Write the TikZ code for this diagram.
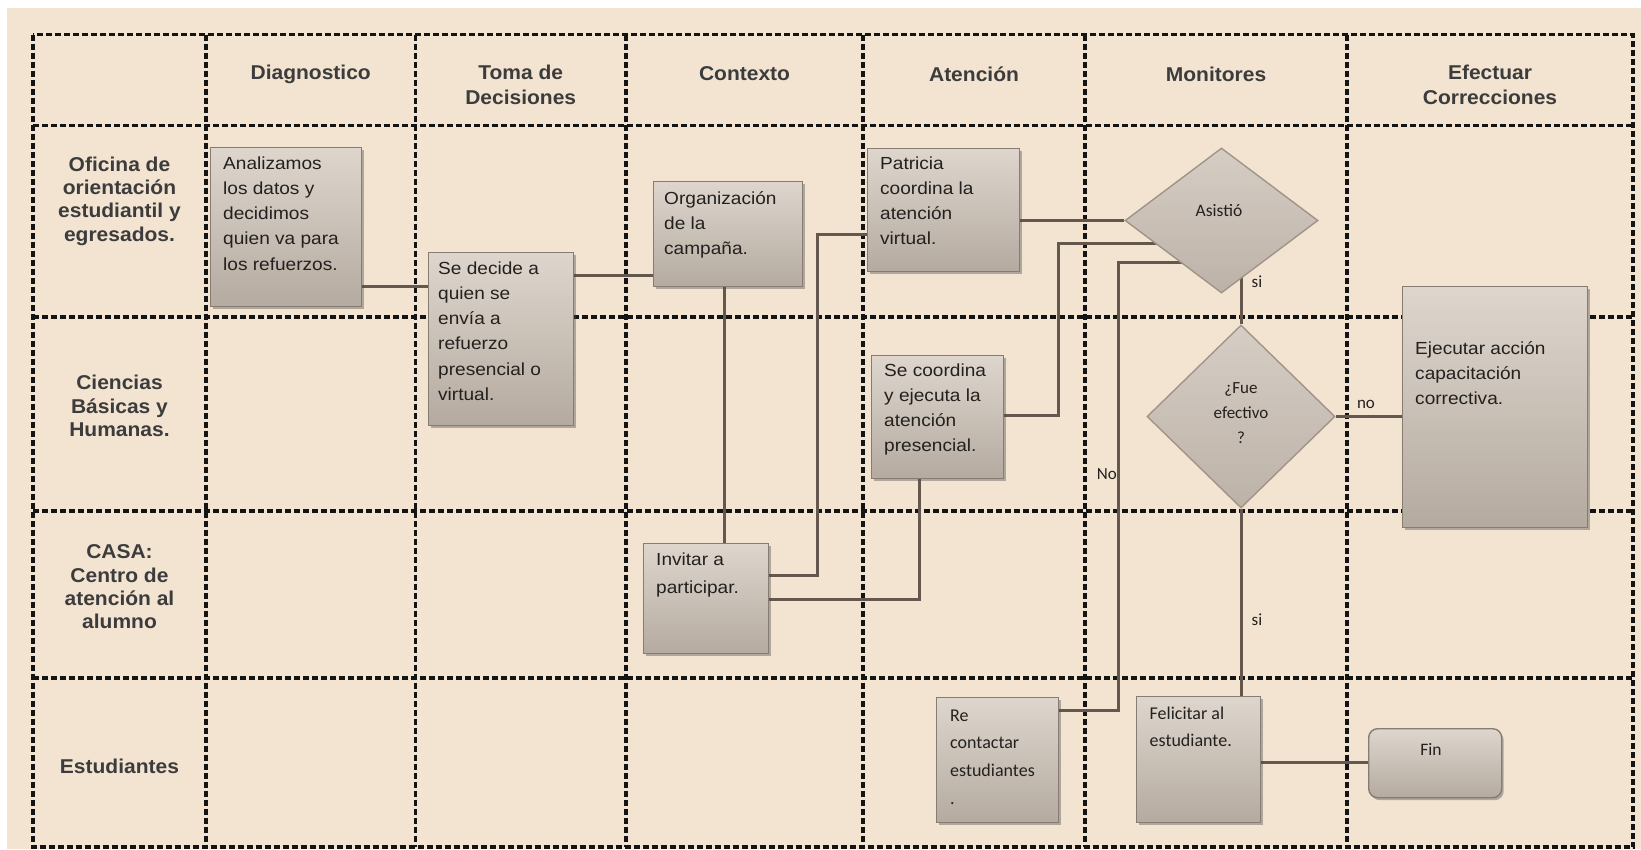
\documentclass[tikz,border=0pt]{standalone}
\usepackage{fontspec}
\setmainfont{Liberation Sans}
\newfontfamily\hfont[FakeStretch=1.05]{Liberation Sans}
\newfontfamily\bxfont[FakeStretch=1.09]{Liberation Sans}
\newfontfamily\cbfont{Carlito}
\usetikzlibrary{shapes.geometric,shadows}
\definecolor{beige}{RGB}{243,228,210}
\definecolor{boxtop}{RGB}{222,214,205}
\definecolor{boxbot}{RGB}{180,170,160}
\definecolor{boxedge}{RGB}{135,124,114}
\definecolor{diatop}{RGB}{214,205,196}
\definecolor{diabot}{RGB}{188,178,168}
\definecolor{diaedge}{RGB}{160,148,136}
\definecolor{conncol}{RGB}{100,88,78}
\definecolor{headc}{RGB}{60,60,60}
\definecolor{txtc}{RGB}{35,33,31}
\newcommand\tl[1]{\parbox[t]{200pt}{\raggedright #1}}
\pgfdeclarelayer{bg}
\pgfsetlayers{bg,main}
\begin{document}
\begin{tikzpicture}[x=1pt,y=-1pt,
  gridline/.style={line width=3.2pt, dash pattern=on 6pt off 3pt, draw=black!92},
  box/.style={draw=boxedge, line width=1.4pt, top color=boxtop, bottom color=boxbot, inner sep=0pt, anchor=north west,
    drop shadow={shadow xshift=2pt, shadow yshift=-2.5pt, opacity=0.4, fill=black!70}},
  dia/.style={diamond, draw=diaedge, line width=1.4pt, top color=diatop, bottom color=diabot, inner sep=0pt},
  conn/.style={draw=conncol, line width=3pt},
  hdr/.style={font=\hfont\bfseries\fontsize{20}{25}\selectfont, text=headc, align=center, inner sep=0pt},
  rlab/.style={font=\hfont\bfseries\fontsize{20}{23.3}\selectfont, text=headc, align=center, inner sep=0pt},
  btxt/.style={font=\bxfont\fontsize{17.5}{25.3}\selectfont, text=txtc, anchor=base west, inner sep=0pt},
  ctxt/.style={font=\cbfont\fontsize{18}{27.8}\selectfont, text=txtc, anchor=base west, inner sep=0pt},
  lbl/.style={font=\cbfont\fontsize{17}{25}\selectfont, text=txtc, inner sep=0pt, align=center}]

\useasboundingbox (0,0) rectangle (1641,849);

\begin{pgfonlayer}{bg}
  \fill[white] (0,0) rectangle (1641,849);
  \fill[beige] (7,8) rectangle (1641,849);
  \draw[gridline] (33,34.5) rectangle (1633,847);
  \foreach \gx in {206,415.5,626,863,1085,1347}
    \draw[gridline] (\gx,34.5) -- (\gx,847);
  \foreach \gy in {125.6,317,511,678}
    \draw[gridline] (33,\gy) -- (1633,\gy);
\end{pgfonlayer}

% headers
\node[hdr] (hdiag) at (310.7,74) {Diagnostico};
\node[hdr] (htoma) at (520.7,85) {Toma de\\Decisiones};
\node[hdr] (hcont) at (744.5,74) {Contexto};
\node[hdr] (hate)  at (974,74) {Atención};
\node[hdr] (hmon)  at (1216,74) {Monitores};
\node[hdr] (hefe)  at (1490,85) {Efectuar\\Correcciones};

% row labels
\node[rlab] (r1) at (119.5,201) {Oficina de\\orientación\\estudiantil y\\egresados.};
\node[rlab] (r2) at (119.5,406) {Ciencias\\Básicas y\\Humanas.};
\node[rlab] (r3) at (119.5,587) {CASA:\\Centro de\\atención al\\alumno};
\node[rlab] (r4) at (119.5,766) {Estudiantes};

% boxes
\node[box, minimum width=151pt, minimum height=159pt] (ana) at (210,147) {};
\node[box, minimum width=145pt, minimum height=173pt] (dec) at (428,252) {};
\node[box, minimum width=149pt, minimum height=105pt] (org) at (653,181) {};
\node[box, minimum width=152pt, minimum height=123pt] (pat) at (867,148) {};
\node[box, minimum width=132pt, minimum height=123pt] (sec) at (871,355) {};
\node[box, minimum width=125pt, minimum height=110pt] (inv) at (643,543) {};
\node[box, minimum width=185pt, minimum height=241pt] (eje) at (1402,286) {};
\node[box, minimum width=122pt, minimum height=125pt] (rec) at (936,697) {};
\node[box, minimum width=124pt, minimum height=126pt] (fel) at (1136,696) {};
\node[box, rounded corners=9pt, minimum width=133pt, minimum height=69pt] (fin) at (1368,728) {};

% diamonds
\node[dia, minimum width=193pt, minimum height=145pt] (asis) at (1221.5,220.5) {};
\node[dia, minimum width=188pt, minimum height=183pt] (fue) at (1241,416.5) {};

% box texts
\node[btxt] (tana) at (223,169) {\tl{Analizamos\\los datos y\\decidimos\\quien va para\\los refuerzos.}};
\node[btxt] (tdec) at (438,274) {\tl{Se decide a\\quien se\\envía a\\refuerzo\\presencial o\\virtual.}};
\node[btxt] (torg) at (664,204) {\tl{Organización\\de la\\campaña.}};
\node[btxt] (tpat) at (880,169) {\tl{Patricia\\coordina la\\atención\\virtual.}};
\node[btxt] (tsec) at (884,376) {\tl{Se coordina\\y ejecuta la\\atención\\presencial.}};
\node[btxt] (tinv) at (656,565) {\tl{Invitar a\\[2.7pt]participar.}};
\node[btxt] (teje) at (1415,354) {\tl{Ejecutar acción\\capacitación\\correctiva.}};
\node[ctxt] (trec) at (950,721) {\tl{Re\\contactar\\estudiantes\\.}};
\node[ctxt] (tfel) at (1149.5,719) {\tl{Felicitar al\\estudiante.}};
\node[lbl, font=\cbfont\fontsize{17.5}{20}\selectfont] (tasis) at (1219,211) {Asistió};
\node[lbl, font=\cbfont\fontsize{17}{25}\selectfont] (tfue) at (1241,413) {¿Fue\\efectivo\\?};
\node[lbl, font=\cbfont\fontsize{17.5}{20}\selectfont] (tfin) at (1431,749) {Fin};

% connector labels
\node[lbl] (lsi1) at (1257,282) {si};
\node[lbl] (lno)  at (1366,404) {no};
\node[lbl] (lsi2) at (1257,620) {si};
\node[lbl, anchor=east] (lNo) at (1117,474) {No};

% connectors
\begin{pgfonlayer}{bg}
  \draw[conn] (ana.east |- 0,286) -- (dec.west |- 0,286);
  \draw[conn] (dec.east |- 0,275) -- (org.west |- 0,275);
  \draw[conn] (org.south -| 724,0) -- (inv.north -| 724,0);
  \draw[conn] (inv.east |- 0,575) -| (817,234) -- (pat.west |- 0,234);
  \draw[conn] (inv.east |- 0,599) -| (sec.south -| 919,0);
  \draw[conn] (pat.east |- 0,220.5) -- (asis.west);
  \draw[conn] (sec.east |- 0,415) -| (1058,243) -- (asis.center |- 0,243);
  \draw[conn] (rec.east |- 0,710) -| (1118,262) -- (asis.center |- 0,262);
  \draw[conn] (fue.north) -- (fue.north |- asis.center);
  \draw[conn] (fue.east) -- (eje.west |- fue.east);
  \draw[conn] (fue.south) -- (fel.north -| fue.south);
  \draw[conn] (fel.east |- 0,762) -- (fin.west |- 0,762);
\end{pgfonlayer}
\end{tikzpicture}
\end{document}
